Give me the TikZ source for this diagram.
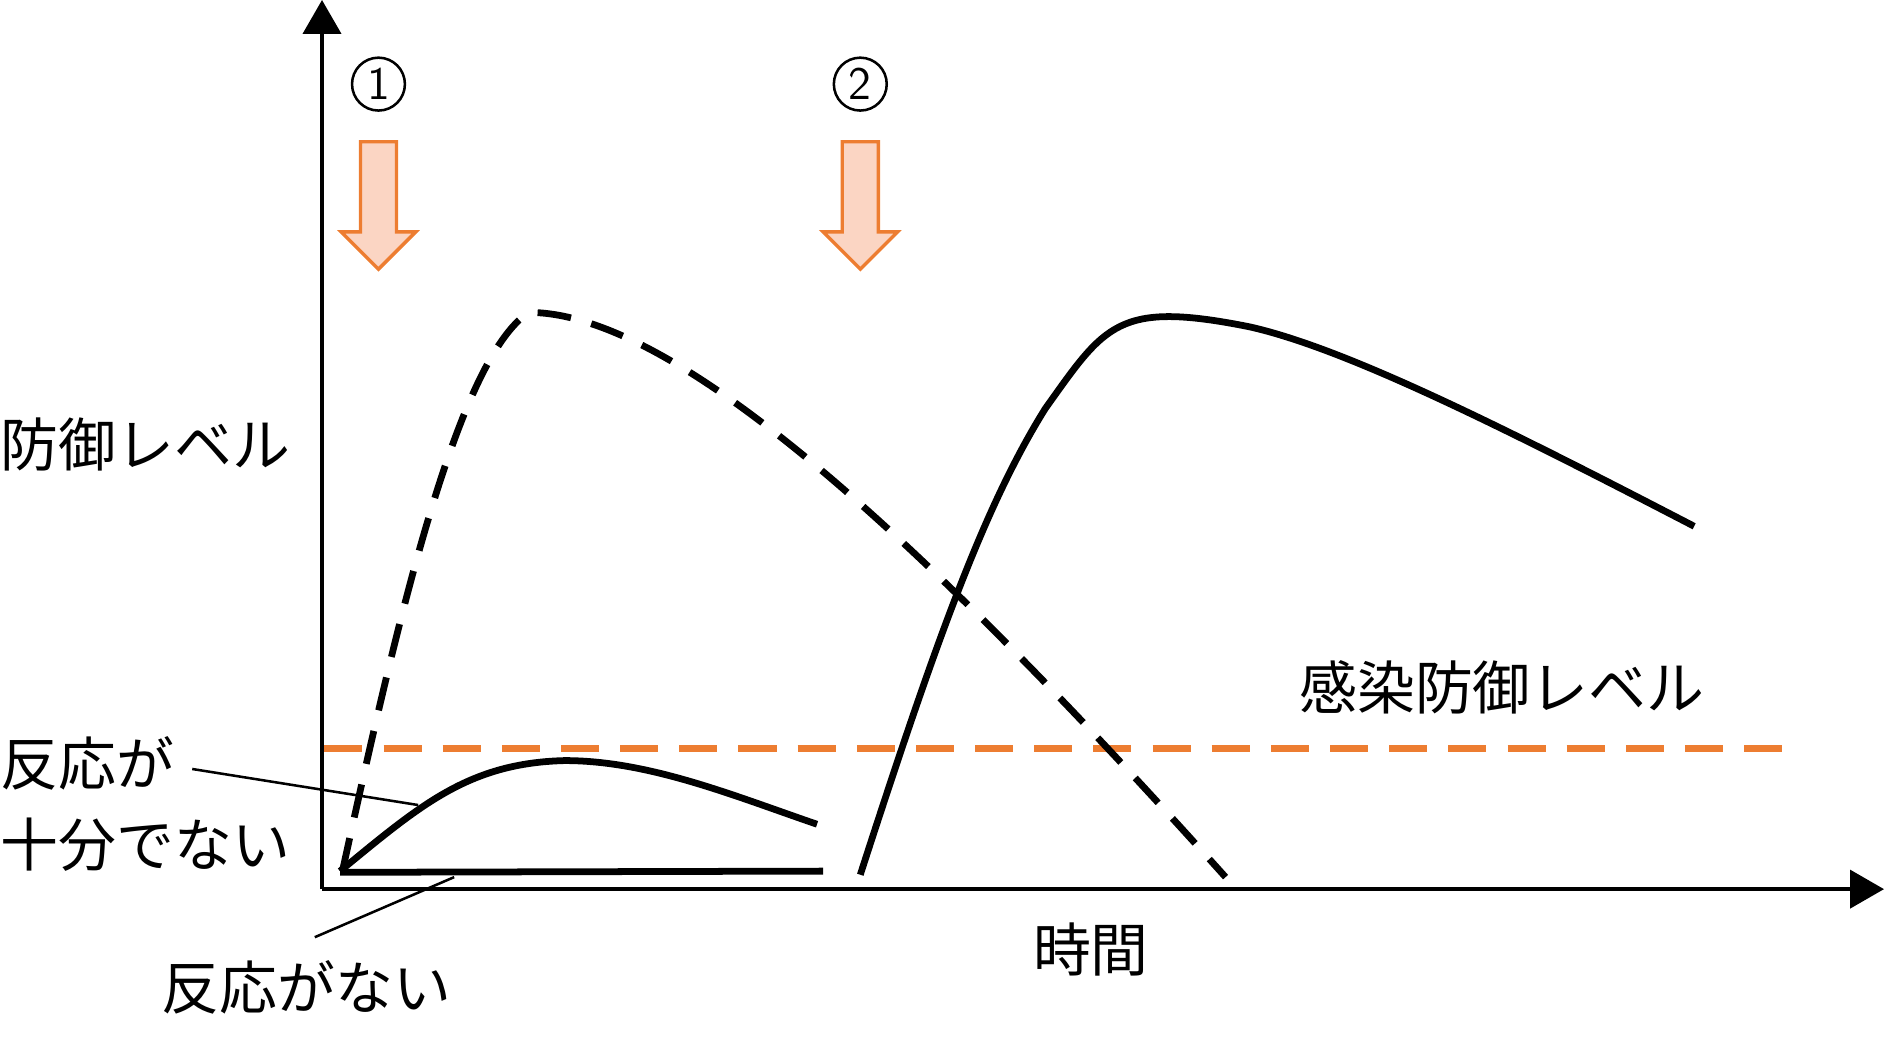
\documentclass[tikz,border=0pt]{standalone}
\usepackage{fontspec}
\setmainfont{Noto Sans CJK JP}
\usetikzlibrary{arrows.meta}
\definecolor{org}{HTML}{ED7D31}
\definecolor{orgl}{HTML}{FBD5C3}
\begin{document}
\begin{tikzpicture}[x=0.01cm,y=-0.01cm,
  lbl/.style={font=\fontsize{13.7pt}{16pt}\selectfont,inner sep=0pt},
  curve/.style={line width=1.6pt},
  dcurve/.style={line width=1.6pt,dash pattern=on 8pt off 5pt},
  barrow/.style={draw=org,fill=orgl,line width=0.8pt}]
\useasboundingbox (0,0) rectangle (1568,869);
% axes
\coordinate (o) at (268,740);
\coordinate (yt) at (268,0);
\coordinate (xt) at (1568,740);
\draw[line width=0.8pt,-{Triangle[width=9pt,length=8pt]}] (o) -- (yt);
\draw[line width=0.8pt,-{Triangle[width=9pt,length=8pt]}] (o) -- (xt);
% circled numbers
\node[draw,circle,line width=0.6pt,minimum size=0.44cm,inner sep=0pt,font=\fontsize{11pt}{12pt}\sffamily] (n1) at (315,70) {1};
\node[draw,circle,line width=0.6pt,minimum size=0.44cm,inner sep=0pt,font=\fontsize{11pt}{12pt}\sffamily] (n2) at (716,70) {2};
% block arrows
\foreach \cx in {315,716}{
\draw[barrow] (\cx-15,118) -- (\cx+15,118) -- (\cx+15,193) -- (\cx+31,193) -- (\cx,224) -- (\cx-31,193) -- (\cx-15,193) -- cycle;}
% orange dashed threshold
\coordinate (t1) at (270,623); \coordinate (t2) at (1500,623);
\draw[org,line width=1.8pt,dash pattern=on 9pt off 5pt] (t1) -- (t2);
% dashed curve
\draw[dcurve] (285,725) .. controls (330,520) and (380,300) .. (440,260)
  .. controls (560,260) and (760,440) .. (1020,730);
% solid big curve
\draw[curve] (716,728) .. controls (780,530) and (820,420) .. (870,340)
  .. controls (920,270) and (930,250) .. (1040,272)
  .. controls (1120,290) and (1250,355) .. (1410,438);
% small curve
\draw[curve] (283,725) .. controls (350,670) and (390,635) .. (470,633)
  .. controls (540,633) and (610,662) .. (680,686);
% flat
\draw[curve] (283,726) -- (685,725);
% labels
\node[lbl,anchor=west] (ylab) at (0,370) {防御レベル};
\node[lbl] (inf) at (1250,572) {感染防御レベル};
\node[lbl] (time) at (908,790) {時間};
\node[lbl,anchor=west] (r1) at (0,635) {反応が};
\node[lbl,anchor=west] (r2) at (0,703) {十分でない};
\node[lbl] (r3) at (255,822) {反応がない};
\coordinate (p1) at (348,670); \coordinate (p2) at (378,730);
\draw[line width=0.6pt] (160,640) -- (p1);
\draw[line width=0.6pt] (262,780) -- (p2);
\end{tikzpicture}
\end{document}
